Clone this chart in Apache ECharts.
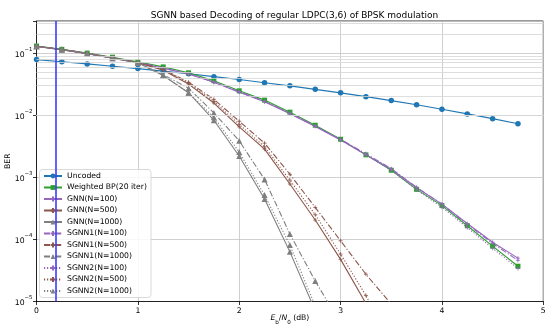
<!DOCTYPE html>
<html>
<head>
<meta charset="utf-8">
<script src="https://cdn.jsdelivr.net/npm/echarts@6/dist/echarts.min.js"></script>
<style>html,body{margin:0;padding:0;background:#fff}#c{width:550px;height:334px}</style>
</head>
<body>
<div id="c"></div>
<script>
// ---- data ----
const xs = [0,0.25,0.5,0.75,1,1.25,1.5,1.75,2,2.25,2.5,2.75,3,3.25,3.5,3.75,4,4.25,4.5,4.75];
const xTicks = [0,1,2,3,4,5];
const shannonLimit = 0.187;

const uncoded    = [0.0786,0.0728,0.0671,0.0616,0.0563,0.0512,0.0464,0.0418,0.0375,0.0334,0.0297,0.0261,0.0229,0.0199,0.0172,0.0147,0.0125,0.0105,0.0088,0.0073];
const weightedBP = [0.130,0.115,0.100,0.086,0.0724,0.060,0.0482,0.0358,0.0247,0.0175,0.0112,0.0069,0.0041,0.0023,0.0013,0.00064,0.00035,0.000166,0.000078,0.000037];

const gnn100   = [0.128,0.113,0.098,0.083,0.070,0.057,0.046,0.034,0.0235,0.0165,0.0106,0.0066,0.0040,0.0023,0.00135,0.00068,0.00037,0.000180,0.000090,0.000050];
const gnn500   = [0.129,0.114,0.099,0.084,0.070,0.053,0.0317,0.0157,0.0065,0.00284,0.00078,0.000205,0.0000477,0.0000093];
const gnn1000  = [0.129,0.114,0.099,0.083,0.070,0.0435,0.023,0.0083,0.0022,0.000446,0.000063,0.0000071];

const sgnn1_100  = [0.129,0.114,0.099,0.084,0.071,0.058,0.0465,0.0345,0.024,0.0168,0.0108,0.0067,0.0041,0.0024,0.00138,0.00069,0.00037,0.000175,0.000086,0.000046];
const sgnn1_500  = [0.129,0.114,0.099,0.084,0.071,0.055,0.034,0.018,0.008,0.00355,0.00112,0.000327,0.000095,0.0000275,0.0000091];
const sgnn1_1000 = [0.129,0.114,0.099,0.084,0.070,0.045,0.0273,0.0109,0.00387,0.000925,0.000122,0.0000214,0.0000044];

const sgnn2_100  = [0.128,0.113,0.098,0.083,0.070,0.057,0.046,0.034,0.0237,0.0166,0.0107,0.0067,0.0040,0.0023,0.00130,0.00063,0.00033,0.000155,0.000072,0.000034];
const sgnn2_500  = [0.129,0.114,0.099,0.084,0.070,0.054,0.033,0.0167,0.0071,0.0031,0.00090,0.00025,0.000058,0.0000125,0.0000020];
const sgnn2_1000 = [0.129,0.114,0.099,0.083,0.070,0.0435,0.023,0.0093,0.00255,0.000517,0.000081,0.0000085];

const names = ['Uncoded','Weighted BP(20 iter)','GNN(N=100)','GNN(N=500)','GNN(N=1000)',
  'SGNN1(N=100)','SGNN1(N=500)','SGNN1(N=1000)','SGNN2(N=100)','SGNN2(N=500)','SGNN2(N=1000)'];

// ---- styling ----
const C = {blue:'#1f77b4', green:'#2ca02c', purple:'#9467bd', brown:'#8c564b', gray:'#7f7f7f'};
const FS = 7.7;
const yMin = 1e-5, yMax = 0.329;
const plus = 'path://M0,5L10,5M5,0L5,10';
const dashDot = [6,2,1.2,2];
const dotted = [1.2,1.8];

function pairs(arr){ return arr.map((v,i)=>[xs[i], v]); }
function mk(name, arr, color, symbol, size, type){
  return {
    name, type:'line', data: pairs(arr), z: 3,
    symbol, symbolSize: size, clip: true,
    lineStyle:{color, width:1.1, type: type || 'solid'},
    itemStyle:{color, borderColor: color, borderWidth: symbol===plus ? 0.8 : 0},
    emphasis:{disabled:true}, animation:false
  };
}

// minor horizontal grid lines (2..9 x 10^e)
const minorLines = [];
for (let e=-5; e<=-1; e++) for (let k=2; k<=9; k++) {
  const v = k*Math.pow(10,e);
  if (v < yMax) minorLines.push({yAxis: v});
}

const series = [
  { type:'line', data:[], z:1, silent:true, animation:false,
    markLine:{ silent:true, symbol:['none','none'], animation:false,
      label:{show:false},
      lineStyle:{color:'#d6d6d6', width:0.8, type:'solid'},
      data: minorLines.concat([{xAxis: shannonLimit, lineStyle:{color:'#3b3bff', width:1.6, type:'solid'}}])
    }
  },
  mk(names[0], uncoded, C.blue, 'circle', 5.5),
  mk(names[1], weightedBP, C.green, 'rect', 5),
  mk(names[2], gnn100, C.purple, plus, 4),
  mk(names[3], gnn500, C.brown, plus, 4),
  mk(names[4], gnn1000, C.gray, 'triangle', 6),
  mk(names[5], sgnn1_100, C.purple, plus, 4, dashDot),
  mk(names[6], sgnn1_500, C.brown, plus, 4, dashDot),
  mk(names[7], sgnn1_1000, C.gray, 'triangle', 6, dashDot),
  mk(names[8], sgnn2_100, C.purple, plus, 4, dotted),
  mk(names[9], sgnn2_500, C.brown, plus, 4, dotted),
  mk(names[10], sgnn2_1000, C.gray, 'triangle', 6, dotted)
];

const chart = echarts.init(document.getElementById('c'), null, {renderer:'canvas'});
chart.setOption({
  animation:false,
  backgroundColor:'#fff',
  textStyle:{fontFamily:'DejaVu Sans'},
  title:{
    text:'SGNN based Decoding of regular LDPC(3,6) of BPSK modulation',
    left: 289.5, top: 6, textAlign:'center',
    textStyle:{fontSize:9, fontWeight:'normal', color:'#000', fontFamily:'DejaVu Sans'}
  },
  grid:{left:36.5, right:6.7, top:21, bottom:32.5, containLabel:false, outerBoundsMode:'none',
        show:true, borderColor:'#000', borderWidth:0.8, backgroundColor:'transparent'},
  legend:{
    data: names, orient:'vertical', left:39.5, top:169.5,
    padding:[2,4,2,3.5], itemWidth:18, itemHeight:6, itemGap:2.5,
    backgroundColor:'rgba(255,255,255,0.85)', borderColor:'#d0d0d0', borderWidth:0.8, borderRadius:3,
    textStyle:{fontSize:FS, color:'#000', lineHeight:9, fontFamily:'DejaVu Sans'},
    selectedMode:false
  },
  xAxis:{
    type:'value', min:xTicks[0], max:xTicks[xTicks.length-1], interval:1,
    name:'{i|E}{s|b}{n|/}{i|N}{s|0}{n| (dB)}', nameLocation:'middle', nameGap:13, nameMoveOverlap:false,
    nameTextStyle:{rich:{
      i:{fontSize:FS, fontStyle:'italic', lineHeight:11, verticalAlign:'top', color:'#000', fontFamily:'DejaVu Sans'},
      s:{fontSize:5.6, lineHeight:11, verticalAlign:'bottom', color:'#000', fontFamily:'DejaVu Sans'},
      n:{fontSize:FS, lineHeight:11, verticalAlign:'top', color:'#000', fontFamily:'DejaVu Sans'}
    }},
    axisLine:{show:true, onZero:false, lineStyle:{color:'#000', width:0.8}},
    axisTick:{show:true, length:3.5, lineStyle:{color:'#000', width:0.8}},
    axisLabel:{fontSize:FS, color:'#000', margin:6, fontFamily:'DejaVu Sans'},
    splitLine:{show:true, lineStyle:{color:'#c4c4c4', width:0.8}}
  },
  yAxis:{
    type:'log', logBase:10, min:yMin, max:yMax,
    name:'BER', nameLocation:'middle', nameGap:24, nameMoveOverlap:false,
    nameTextStyle:{fontSize:FS, color:'#000', fontFamily:'DejaVu Sans'},
    axisLine:{show:true, lineStyle:{color:'#000', width:0.8}},
    axisTick:{show:true, length:3.5, lineStyle:{color:'#000', width:0.8}},
    axisLabel:{
      margin:4, color:'#000',
      formatter:function(v){
        const e = Math.log10(v);
        if (Math.abs(e-Math.round(e))>1e-6) return '';
        return '{b|10}{s|\u2212' + Math.abs(Math.round(e)) + '}';
      },
      rich:{
        b:{fontSize:FS, lineHeight:12, verticalAlign:'bottom', color:'#000', fontFamily:'DejaVu Sans'},
        s:{fontSize:5.4, lineHeight:12, verticalAlign:'top', color:'#000', fontFamily:'DejaVu Sans'}
      }
    },
    splitLine:{show:true, lineStyle:{color:'#c4c4c4', width:0.8}}
  },
  series
});
</script>
</body>
</html>
